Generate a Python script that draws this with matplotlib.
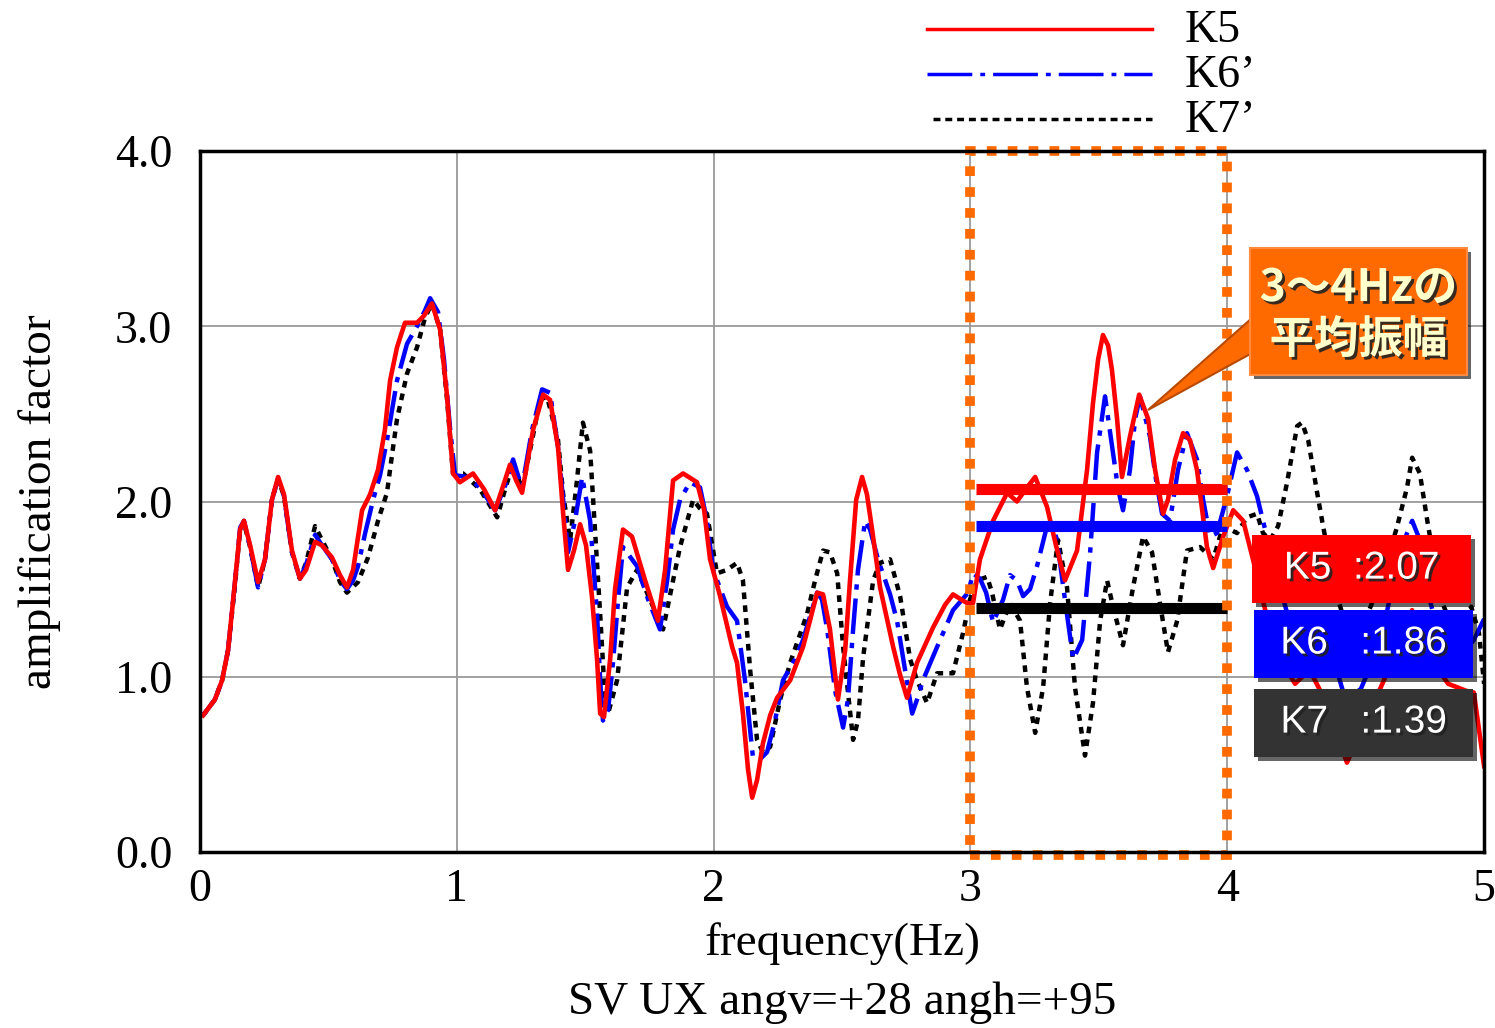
import matplotlib
matplotlib.use('Agg')
import matplotlib.pyplot as plt
import matplotlib.patheffects as pe
from matplotlib.patches import Rectangle, Polygon
from matplotlib.lines import Line2D

# amplification spectra: (frequency Hz, amplification)
k5 = [(0.012, 0.78), (0.058, 0.87), (0.086, 0.98), (0.109, 1.15), (0.136, 1.54), (0.156, 1.84),
      (0.171, 1.89), (0.195, 1.75), (0.226, 1.54), (0.253, 1.67), (0.280, 2.01), (0.304, 2.14),
      (0.327, 2.04), (0.358, 1.72), (0.389, 1.56), (0.413, 1.61), (0.448, 1.77), (0.475, 1.75),
      (0.514, 1.68), (0.545, 1.58), (0.572, 1.51), (0.596, 1.61), (0.631, 1.95), (0.662, 2.04),
      (0.693, 2.18), (0.720, 2.41), (0.740, 2.69), (0.767, 2.88), (0.798, 3.02), (0.845, 3.02),
      (0.872, 3.06), (0.903, 3.13), (0.935, 2.98), (0.962, 2.60), (0.985, 2.16), (1.012, 2.11),
      (1.063, 2.16), (1.106, 2.07), (1.149, 1.95), (1.176, 2.07), (1.207, 2.21), (1.231, 2.12),
      (1.254, 2.05), (1.297, 2.41), (1.336, 2.61), (1.363, 2.58), (1.394, 2.31), (1.414, 1.93),
      (1.433, 1.61), (1.456, 1.72), (1.480, 1.87), (1.503, 1.75), (1.526, 1.46), (1.546, 1.10),
      (1.558, 0.79), (1.573, 0.77), (1.597, 1.10), (1.616, 1.50), (1.647, 1.84), (1.682, 1.80),
      (1.733, 1.55), (1.783, 1.32), (1.811, 1.61), (1.842, 2.12), (1.881, 2.16), (1.935, 2.11),
      (1.963, 1.95), (1.986, 1.67), (2.025, 1.46), (2.072, 1.17), (2.091, 1.08), (2.114, 0.79),
      (2.134, 0.47), (2.150, 0.31), (2.169, 0.41), (2.192, 0.62), (2.220, 0.78), (2.247, 0.88),
      (2.298, 0.98), (2.348, 1.17), (2.375, 1.32), (2.403, 1.48), (2.426, 1.47), (2.453, 1.27),
      (2.484, 0.87), (2.512, 1.15), (2.531, 1.55), (2.555, 2.01), (2.578, 2.14), (2.597, 2.04),
      (2.617, 1.84), (2.648, 1.51), (2.699, 1.17), (2.726, 1.01), (2.753, 0.88), (2.792, 1.08),
      (2.854, 1.28), (2.901, 1.41), (2.932, 1.47), (2.987, 1.42), (3.010, 1.42), (3.037, 1.67),
      (3.088, 1.89), (3.143, 2.05), (3.181, 2.00), (3.220, 2.08), (3.252, 2.14), (3.298, 1.97),
      (3.333, 1.75), (3.368, 1.55), (3.415, 1.72), (3.454, 2.18), (3.477, 2.56), (3.497, 2.81),
      (3.516, 2.95), (3.536, 2.89), (3.551, 2.75), (3.571, 2.47), (3.590, 2.14), (3.621, 2.37),
      (3.657, 2.61), (3.692, 2.47), (3.719, 2.18), (3.750, 1.93), (3.769, 2.01), (3.797, 2.24),
      (3.828, 2.39), (3.855, 2.35), (3.882, 2.18), (3.921, 1.74), (3.945, 1.62), (3.984, 1.80),
      (4.023, 1.95), (4.062, 1.89), (4.100, 1.67), (4.148, 1.38), (4.206, 1.10), (4.264, 0.96),
      (4.320, 1.04), (4.380, 0.87), (4.466, 0.51), (4.540, 0.75), (4.610, 0.98), (4.670, 1.21),
      (4.720, 1.38), (4.770, 1.15), (4.860, 0.96), (4.930, 0.92), (4.960, 0.91), (5.000, 0.49)]

k6 = [(0.012, 0.78), (0.058, 0.87), (0.086, 0.98), (0.109, 1.15), (0.136, 1.54), (0.156, 1.85),
      (0.171, 1.89), (0.195, 1.74), (0.226, 1.51), (0.253, 1.67), (0.280, 2.01), (0.304, 2.13),
      (0.327, 2.03), (0.358, 1.71), (0.389, 1.56), (0.413, 1.64), (0.448, 1.81), (0.475, 1.75),
      (0.514, 1.67), (0.545, 1.55), (0.572, 1.50), (0.596, 1.55), (0.615, 1.63), (0.643, 1.82),
      (0.674, 2.01), (0.701, 2.15), (0.728, 2.35), (0.767, 2.69), (0.806, 2.90), (0.845, 3.00),
      (0.876, 3.09), (0.896, 3.16), (0.927, 3.08), (0.950, 2.81), (0.974, 2.41), (0.993, 2.15),
      (1.040, 2.14), (1.090, 2.08), (1.149, 1.95), (1.188, 2.09), (1.219, 2.24), (1.238, 2.15),
      (1.254, 2.08), (1.293, 2.41), (1.332, 2.64), (1.363, 2.62), (1.394, 2.31), (1.414, 2.01),
      (1.433, 1.71), (1.460, 1.89), (1.488, 2.14), (1.519, 1.89), (1.546, 1.36), (1.558, 0.98),
      (1.569, 0.75), (1.589, 0.81), (1.608, 1.08), (1.628, 1.44), (1.647, 1.74), (1.702, 1.63),
      (1.745, 1.44), (1.791, 1.27), (1.819, 1.55), (1.842, 1.84), (1.869, 2.01), (1.908, 2.11),
      (1.947, 2.08), (1.974, 1.89), (1.998, 1.61), (2.052, 1.40), (2.091, 1.32), (2.122, 0.98),
      (2.153, 0.54), (2.181, 0.53), (2.208, 0.57), (2.239, 0.75), (2.270, 0.98), (2.317, 1.10),
      (2.348, 1.21), (2.403, 1.48), (2.422, 1.44), (2.442, 1.27), (2.473, 0.92), (2.504, 0.71),
      (2.523, 0.87), (2.543, 1.27), (2.562, 1.61), (2.590, 1.89), (2.609, 1.84), (2.640, 1.67),
      (2.687, 1.47), (2.714, 1.32), (2.745, 1.04), (2.773, 0.79), (2.792, 0.87), (2.815, 0.98),
      (2.870, 1.17), (2.932, 1.38), (2.991, 1.48), (3.010, 1.59), (3.037, 1.56), (3.061, 1.48),
      (3.088, 1.31), (3.127, 1.44), (3.154, 1.58), (3.181, 1.55), (3.205, 1.46), (3.232, 1.50),
      (3.259, 1.63), (3.298, 1.86), (3.318, 1.87), (3.337, 1.78), (3.368, 1.44), (3.400, 1.10),
      (3.435, 1.21), (3.466, 1.71), (3.493, 2.28), (3.524, 2.60), (3.555, 2.28), (3.575, 2.07),
      (3.594, 1.95), (3.621, 2.18), (3.641, 2.47), (3.660, 2.60), (3.699, 2.37), (3.723, 2.12),
      (3.746, 1.93), (3.777, 1.89), (3.808, 2.18), (3.843, 2.39), (3.882, 2.24), (3.906, 2.01),
      (3.933, 1.80), (3.960, 1.82), (3.999, 2.03), (4.038, 2.28), (4.077, 2.18), (4.116, 2.03),
      (4.139, 1.89), (4.180, 1.65), (4.230, 1.38), (4.280, 1.21), (4.350, 1.32), (4.410, 1.12),
      (4.460, 0.87), (4.520, 0.93), (4.600, 1.21), (4.660, 1.65), (4.700, 1.82), (4.720, 1.89),
      (4.750, 1.78), (4.790, 1.43), (4.840, 1.15), (4.900, 1.10), (4.960, 1.21), (5.000, 1.33)]

k7 = [(0.012, 0.78), (0.058, 0.87), (0.086, 0.98), (0.109, 1.15), (0.136, 1.52), (0.156, 1.84),
      (0.171, 1.88), (0.195, 1.74), (0.226, 1.51), (0.253, 1.67), (0.280, 2.01), (0.304, 2.13),
      (0.327, 2.03), (0.358, 1.71), (0.389, 1.56), (0.413, 1.65), (0.448, 1.86), (0.475, 1.78),
      (0.514, 1.67), (0.545, 1.54), (0.572, 1.48), (0.615, 1.54), (0.654, 1.68), (0.693, 1.89),
      (0.728, 2.05), (0.748, 2.27), (0.767, 2.47), (0.806, 2.73), (0.845, 2.88), (0.876, 3.05),
      (0.903, 3.13), (0.935, 2.98), (0.962, 2.58), (0.985, 2.16), (1.024, 2.16), (1.090, 2.07),
      (1.157, 1.91), (1.188, 2.07), (1.219, 2.22), (1.254, 2.07), (1.293, 2.35), (1.324, 2.58),
      (1.351, 2.60), (1.394, 2.35), (1.414, 2.04), (1.441, 1.78), (1.464, 2.07), (1.491, 2.45),
      (1.519, 2.29), (1.530, 2.03), (1.558, 1.36), (1.577, 0.87), (1.589, 0.79), (1.624, 0.98),
      (1.663, 1.51), (1.702, 1.61), (1.752, 1.44), (1.803, 1.27), (1.842, 1.55), (1.869, 1.74),
      (1.920, 2.01), (1.947, 1.96), (1.974, 1.93), (2.013, 1.59), (2.052, 1.61), (2.091, 1.65),
      (2.114, 1.55), (2.142, 1.04), (2.169, 0.64), (2.192, 0.57), (2.220, 0.60), (2.259, 0.87),
      (2.298, 1.08), (2.364, 1.36), (2.395, 1.55), (2.426, 1.72), (2.453, 1.71), (2.481, 1.59),
      (2.504, 1.17), (2.543, 0.64), (2.562, 0.75), (2.582, 1.11), (2.621, 1.55), (2.648, 1.65),
      (2.687, 1.67), (2.726, 1.46), (2.765, 1.10), (2.792, 0.98), (2.831, 0.85), (2.870, 1.02),
      (2.932, 1.02), (2.971, 1.25), (2.998, 1.44), (3.026, 1.55), (3.065, 1.57), (3.084, 1.48),
      (3.115, 1.27), (3.154, 1.42), (3.193, 1.32), (3.220, 0.94), (3.252, 0.68), (3.283, 0.94),
      (3.310, 1.42), (3.341, 1.78), (3.376, 1.51), (3.407, 0.94), (3.446, 0.55), (3.477, 0.85),
      (3.505, 1.32), (3.532, 1.55), (3.555, 1.40), (3.594, 1.18), (3.633, 1.51), (3.672, 1.80),
      (3.707, 1.71), (3.738, 1.42), (3.769, 1.14), (3.805, 1.32), (3.843, 1.72), (3.894, 1.74),
      (3.945, 1.67), (3.984, 1.86), (4.038, 1.82), (4.077, 1.91), (4.116, 1.93), (4.139, 1.82),
      (4.167, 1.78), (4.198, 1.86), (4.233, 2.11), (4.272, 2.43), (4.291, 2.45), (4.315, 2.35),
      (4.350, 2.05), (4.373, 1.86), (4.420, 1.50), (4.480, 1.20), (4.530, 1.30), (4.600, 1.55),
      (4.660, 1.85), (4.700, 2.08), (4.720, 2.25), (4.750, 2.16), (4.780, 1.88), (4.830, 1.45),
      (4.890, 1.23), (4.950, 1.40), (4.980, 1.25), (5.000, 0.96)]

labels = ['K5', 'K6\u2019', 'K7\u2019']
box_names = ['K5  :', 'K6   :', 'K7   :']
band_means = [2.07, 1.86, 1.39]   # mean amplitude 3-4 Hz
band_lo, band_hi = 3.0, 4.0

colors = ['red', 'blue', 'black']
box_colors = ['#FF0000', '#0000FF', '#333333']
orange = '#FF6A00'

plt.rcParams['font.family'] = ['Liberation Serif', 'DejaVu Serif']

fig = plt.figure(figsize=(14.95, 10.28), dpi=100)
ax = fig.add_axes([0.1338, 0.1712, 0.8589, 0.6819])

f5, a5 = zip(*k5)
f6, a6 = zip(*k6)
f7, a7 = zip(*k7)
ax.plot(f7, a7, color='black', lw=3.2, linestyle=(0, (1.5, 1.4)), zorder=3)
ax.plot(f6, a6, color='blue', lw=3.2, linestyle=(0, (8, 2, 1.2, 2)), zorder=4)
ax.plot(f5, a5, color='red', lw=3.3, solid_joinstyle='round', zorder=5)

# mean lines in the 3-4Hz band
for m, c in zip(band_means, colors):
    ax.hlines(m, band_lo + 0.02, band_hi, colors=c, lw=8, zorder=6)

ax.add_patch(Rectangle((band_lo, -0.015), band_hi - band_lo, 4.015, fill=False,
                       edgecolor=orange, lw=7, linestyle=(0, (1, 1.15)),
                       zorder=7, clip_on=False))

ax.set_xlim(0, 5)
ax.set_ylim(0, 4)
ax.set_xticks(range(6))
ax.set_yticks(range(5))
ax.set_yticklabels(['%.1f' % v for v in range(5)])
ax.grid(True, color='#9a9a9a', lw=1.3)
ax.tick_params(length=0, labelsize=33)
ax.tick_params(axis='x', pad=12)
ax.tick_params(axis='y', pad=20)
for s in ax.spines.values():
    s.set_linewidth(2.5)
    s.set_zorder(8)

ax.set_ylabel('amplification factor', fontsize=34)
ax.yaxis.set_label_coords(-0.108, 0.5)
ax.text(0.5, -0.13, 'frequency(Hz)', fontsize=34, ha='center', va='center', transform=ax.transAxes)
ax.text(0.5, -0.215, 'SV UX angv=+28 angh=+95', fontsize=34, ha='center', va='center',
        transform=ax.transAxes)

# legend above the plot
leg_y = [0.9718, 0.928, 0.8842]
leg_styles = ['-', (0, (12.9, 2.3, 1.4, 2.3)), (0, (2, 1.4))]
for y, lab, c, ls in zip(leg_y, labels, colors, leg_styles):
    x0 = 0.620 if c != 'black' else 0.624
    fig.add_artist(Line2D([x0, 0.7706], [y, y], transform=fig.transFigure,
                          color=c, lw=2.5, linestyle=ls))
    fig.text(0.7926, y - 0.002, lab, fontsize=33, ha='left', va='center')

# callout
shadow = [pe.withSimplePatchShadow(offset=(3, -3), shadow_rgbFace='black', alpha=0.6)]
fig.add_artist(Polygon([(0.8375, 0.6907), (0.8375, 0.6566), (0.7679, 0.6012)],
                       closed=True, transform=fig.transFigure, fc=orange,
                       ec='#B84A00', lw=1.5))
fig.add_artist(Rectangle((0.8361, 0.6352), 0.1452, 0.1235, transform=fig.transFigure,
                         fc=orange, ec='#FF8A40', lw=1.5, path_effects=shadow))
txt_shadow = [pe.withSimplePatchShadow(offset=(2, -2), shadow_rgbFace='#222222', alpha=0.9)]
fig.text(0.9087, 0.7198, '3\uff5e4Hz\u306e', fontsize=32, weight='bold', color='#FFFFCC',
         family=['Noto Sans CJK JP', 'DejaVu Sans'], ha='center', va='center',
         path_effects=txt_shadow)
fig.text(0.9087, 0.6693, '\u5e73\u5747\u632f\u5e45', fontsize=32, weight='bold', color='#FFFFCC',
         family=['Noto Sans CJK JP', 'DejaVu Sans'], ha='center', va='center',
         path_effects=txt_shadow)

# value boxes
box_y = [0.4134, 0.3405, 0.2636]
box_x = [0.8375, 0.8388, 0.8388]
for bx, by, name, m, bc in zip(box_x, box_y, box_names, band_means, box_colors):
    fig.add_artist(Rectangle((bx, by), 0.1465, 0.0661, transform=fig.transFigure,
                             fc=bc, ec='none', path_effects=shadow))
    fig.text(bx + 0.0733, by + 0.0335, name + '%.2f' % m, fontsize=28, color='white',
             family=['Liberation Sans', 'Noto Sans CJK JP'], ha='center', va='center',
             path_effects=txt_shadow)

fig.savefig('out.png', dpi=100)
